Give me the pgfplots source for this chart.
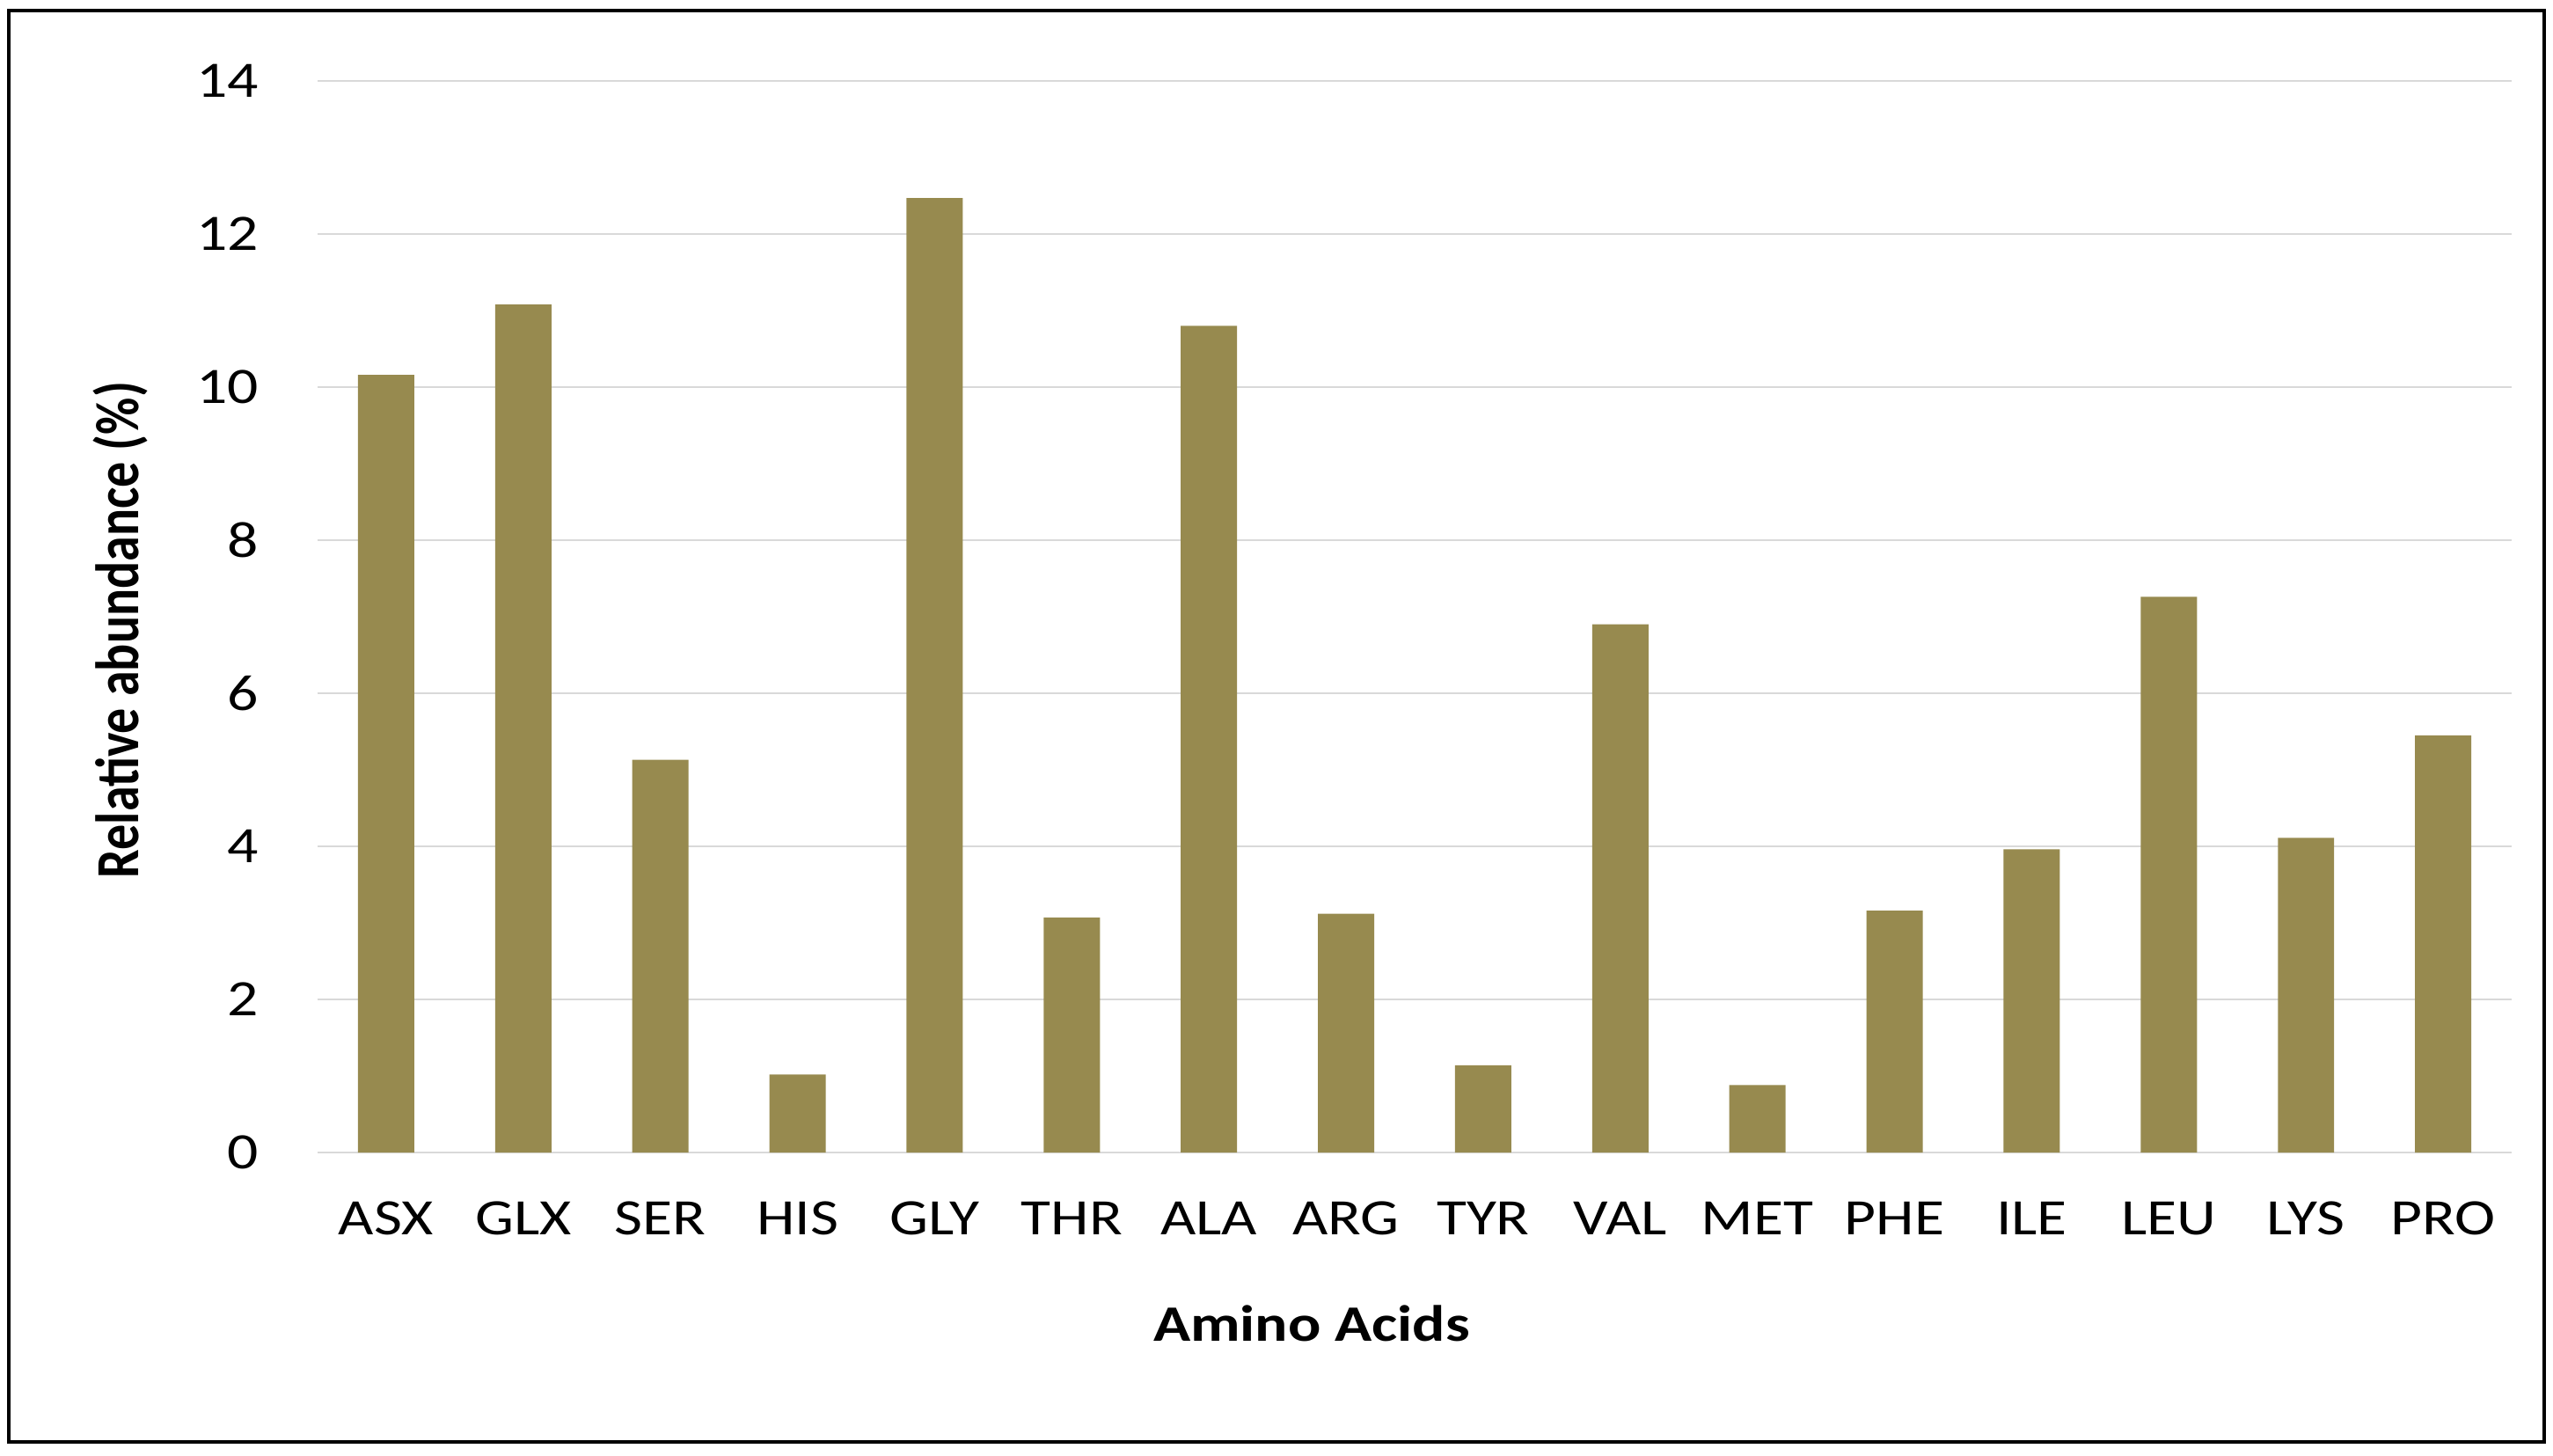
\documentclass[border=0pt]{standalone}
\usepackage{pgfplots}
\pgfplotsset{compat=1.18}
\usepackage{fontspec}
\setmainfont{Carlito}[FakeStretch=1.2]
\newfontfamily\plainfont{Carlito}
\newcommand{\lbl}{\fontsize{14.5}{17}\selectfont}
\definecolor{barcol}{RGB}{151,138,79}
\definecolor{gridcol}{RGB}{217,217,217}
\begin{document}
\begin{tikzpicture}
\path[use as bounding box] (-90.25pt,-86pt) rectangle (635.25pt,327.5pt);
\begin{axis}[
  scale only axis,
  width=623.5pt, height=304.5pt,
  xmin=-0.5, xmax=15.5,
  ymin=0, ymax=14,
  ytick={0,2,...,14},
  xtick={0,...,15},
  xticklabels={ASX,GLX,SER,HIS,GLY,THR,ALA,ARG,TYR,VAL,MET,PHE,ILE,LEU,LYS,PRO},
  major tick length=0pt,
  axis line style={draw=none},
  ymajorgrids,
  major grid style={gridcol, line width=0.6pt},
  /pgf/number format/assume math mode=true,
  yticklabel style={font=\lbl, anchor=east, inner sep=0pt, xshift=-16.5pt, text=black},
  xticklabel style={font=\lbl, anchor=base, inner sep=0pt, yshift=-23.25pt, text=black},
  xlabel={\bfseries Amino Acids},
  xlabel style={font=\lbl, at={(axis description cs:0.4531,-0.1765)}, anchor=base, inner sep=0pt},
  ylabel={\scalebox{1}[1.2]{\plainfont\bfseries Relative abundance (\%)}},
  ylabel style={font=\lbl, at={(axis description cs:-0.0814,0.4877)}, anchor=base, inner sep=0pt},
  ybar, bar width=0.41, bar shift=0pt,
]
\addplot[fill=barcol, draw=none] coordinates {
 (0,10.16) (1,11.08) (2,5.13) (3,1.02) (4,12.47) (5,3.07) (6,10.80) (7,3.12)
 (8,1.14) (9,6.90) (10,0.88) (11,3.16) (12,3.96) (13,7.26) (14,4.11) (15,5.45)
};
\end{axis}
\draw[line width=1pt] (-87.75pt,-82.25pt) rectangle (632.75pt,324.5pt);
\end{tikzpicture}
\end{document}
